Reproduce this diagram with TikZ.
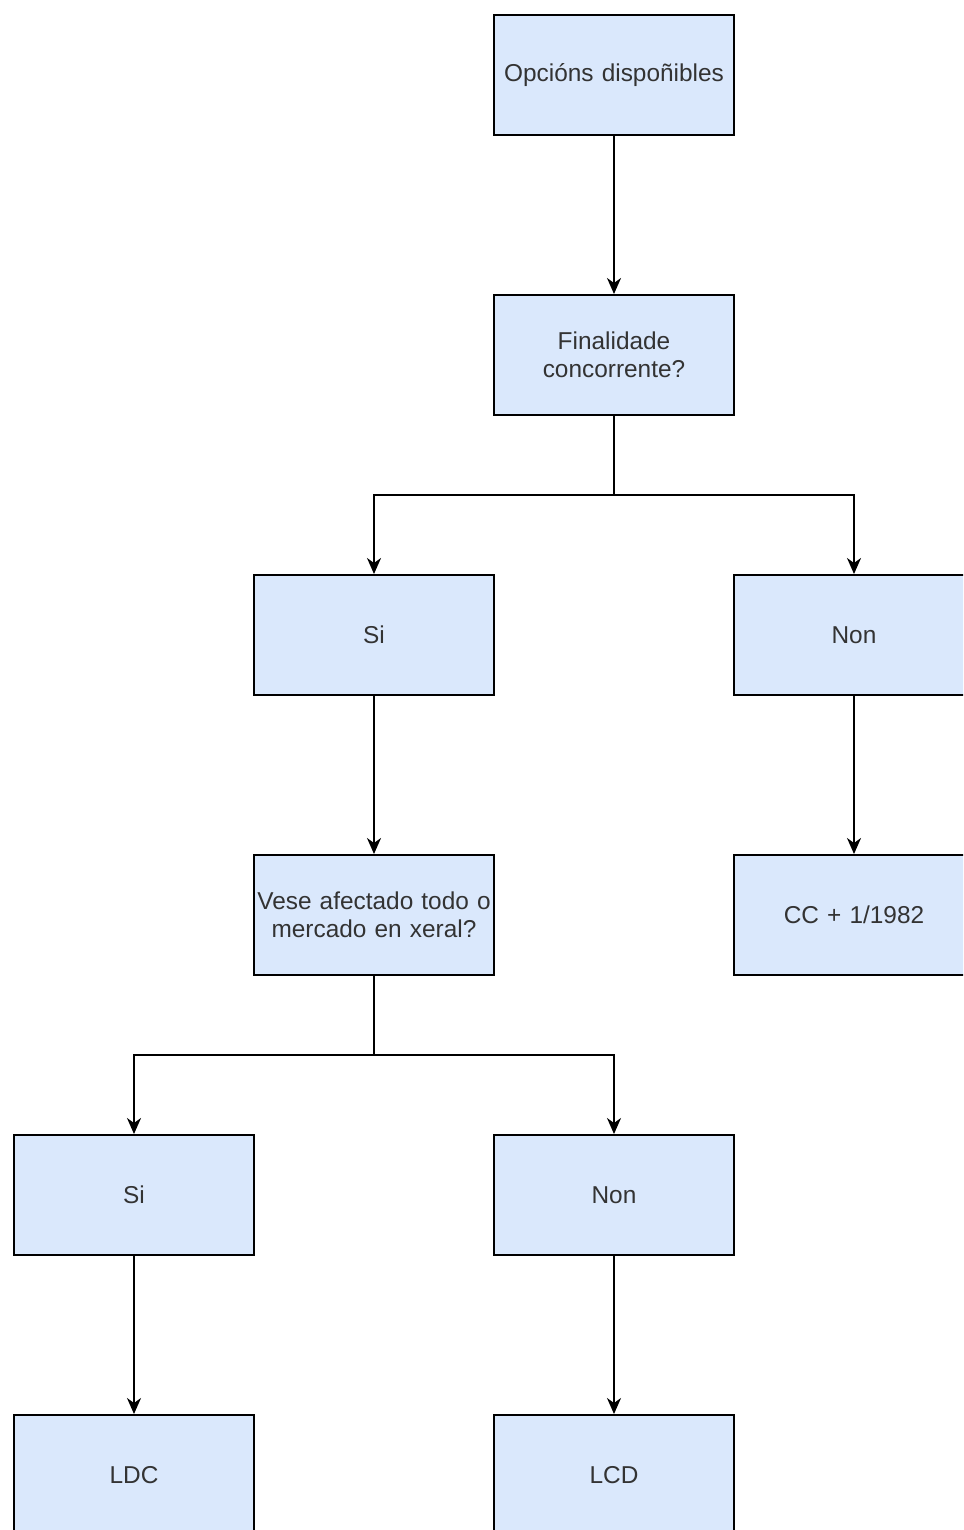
\documentclass[tikz,border=0pt]{standalone}
\usepackage{fontspec}
\setmainfont{Liberation Sans}
\usetikzlibrary{arrows.meta}
\definecolor{boxfill}{HTML}{DAE8FC}
\definecolor{txt}{HTML}{333333}
\tikzset{
  box/.style={draw=black, fill=boxfill, line width=1pt, minimum width=120pt, minimum height=60pt, inner sep=0pt, text=txt, font=\fontsize{12.2}{14}\selectfont, align=center, text width=120pt},
  conn/.style={line width=0.9pt, -{Stealth[length=8pt,width=7pt,inset=2.5pt]}},
  plain/.style={line width=0.9pt}
}
\begin{document}
\begin{tikzpicture}[x=0.5pt,y=-0.5pt]
\useasboundingbox (0,0) rectangle (963,1530);
\clip (0,0) rectangle (963,1530);
\fill[white] (0,0) rectangle (963,1530);
\node[box] (top) at (614,75) {Opcións dispoñibles};
\node[box] (fin) at (614,355) {Finalidade\\concorrente?};
\node[box] (si1) at (374,635) {Si};
\node[box] (non1) at (854,635) {Non};
\node[box] (vese) at (374,915) {Vese afectado todo o\\mercado en xeral?};
\node[box] (cc) at (854,915) {CC + 1/1982};
\node[box] (si2) at (134,1195) {Si};
\node[box] (non2) at (614,1195) {Non};
\node[box] (ldc) at (134,1475) {LDC};
\node[box] (lcd) at (614,1475) {LCD};
\coordinate (j1) at (614,495);
\coordinate (j2) at (374,1055);
\draw[conn] (top) -- (fin);
\draw[plain] (fin.south) -- (j1);
\draw[conn] (j1) -| (si1.north);
\draw[conn] (j1) -| (non1.north);
\draw[conn] (si1) -- (vese);
\draw[conn] (non1) -- (cc);
\draw[plain] (vese.south) -- (j2);
\draw[conn] (j2) -| (si2.north);
\draw[conn] (j2) -| (non2.north);
\draw[conn] (si2) -- (ldc);
\draw[conn] (non2) -- (lcd);
\end{tikzpicture}
\end{document}
